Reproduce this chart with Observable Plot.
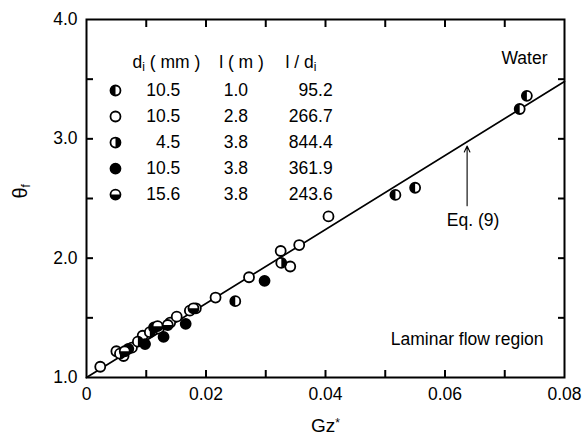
<!DOCTYPE html>
<html><head><meta charset="utf-8">
<script src="https://cdn.jsdelivr.net/npm/d3@7"></script>
<script src="https://cdn.jsdelivr.net/npm/@observablehq/plot@0.6"></script>
<style>
body{margin:0;background:#fff}
svg{font-family:"Liberation Sans",Arial,Helvetica,sans-serif}
</style>
</head><body><div id="chart"></div>
<script>
// ---- data (Gz*, theta_f) ----
const ptsA = [[0.0249,1.64],[0.0517,2.53],[0.0550,2.59],[0.0725,3.25],[0.0737,3.36]];            // d=10.5, l=1.0
const ptsB = [[0.0023,1.09],[0.0050,1.22],[0.0062,1.18],[0.0076,1.25],[0.0094,1.35],[0.0121,1.41],
              [0.0140,1.46],[0.0151,1.51],[0.0173,1.56],[0.0183,1.58],[0.0216,1.67],[0.0272,1.84],
              [0.0325,2.06],[0.0341,1.93],[0.0356,2.11],[0.0405,2.35]];                            // d=10.5, l=2.8
const ptsC = [[0.0056,1.20],[0.0086,1.30],[0.0106,1.38],[0.0326,1.96]];                           // d=4.5, l=3.8
const ptsD = [[0.0070,1.24],[0.0098,1.28],[0.0113,1.42],[0.0129,1.34],[0.0166,1.45],[0.0298,1.81]]; // d=10.5, l=3.8
const ptsE = [[0.0064,1.22],[0.0119,1.43],[0.0136,1.44],[0.0179,1.58]];                           // d=15.6, l=3.8

const legendD  = ["10.5","10.5","4.5","10.5","15.6"];
const legendL  = ["1.0","2.8","3.8","3.8","3.8"];
const legendLD = ["95.2","266.7","844.4","361.9","243.6"];
const legendKind = ["left","none","right","full","bottom"];
const seriesKind = ["left","none","right","full","bottom"];
const seriesPts = [ptsA, ptsB, ptsC, ptsD, ptsE];

const eqLine = [[0,1.0],[0.08,3.48]];
const xMajor = [0,0.02,0.04,0.06,0.08];
const xTicks = [0.01,0.02,0.03,0.04,0.05,0.06,0.07];
const yMajor = [1,2,3,4];
const yTicks = [1.5,2,2.5,3,3.5];

// ---- custom half-disc symbols ----
function half(start){
  return {draw(ctx,size){const r=Math.sqrt(size/Math.PI);
    ctx.moveTo(r*Math.cos(start), r*Math.sin(start));
    ctx.arc(0,0,r,start,start+Math.PI); ctx.closePath();}};
}
const fillSym = {left: half(Math.PI/2), right: half(-Math.PI/2), bottom: half(0), full: "circle"};

const R = 5;
function symbolMarks(data, kind, xAcc, yAcc){
  const m = [Plot.dot(data,{x:xAcc,y:yAcc,r:R,fill:"white",stroke:"black",strokeWidth:1.8})];
  if(kind!=="none") m.push(Plot.dot(data,{x:xAcc,y:yAcc,r:R,fill:"black",stroke:"none",symbol:fillSym[kind]}));
  return m;
}

const rows = legendD.map((d,i)=>({i, d, l:legendL[i], ld:legendLD[i], kind:legendKind[i]}));
const rowY = (i)=> 3.405 - i*0.218;
const FS = 17.5;
const font = {fontSize:FS, fill:"black"};

const marks = [
  Plot.line(eqLine,{x:d=>d[0],y:d=>d[1],stroke:"black",strokeWidth:1.7}),
  ...seriesPts.flatMap((pts,k)=>symbolMarks(pts, seriesKind[k], d=>d[0], d=>d[1])),
  // legend
  Plot.text(["d_i ( mm )"],{x:0.0077,y:3.64,text:d=>d,textAnchor:"start",...font}),
  Plot.text(["l ( m )"],{x:0.0222,y:3.64,text:d=>d,textAnchor:"start",...font}),
  Plot.text(["l / d_i"],{x:0.0333,y:3.64,text:d=>d,textAnchor:"start",...font}),
  ...rows.flatMap(r=>symbolMarks([r], r.kind, ()=>0.00485, d=>rowY(d.i))),
  Plot.text(rows,{x:0.0157,y:d=>rowY(d.i),text:"d",textAnchor:"end",...font}),
  Plot.text(rows,{x:0.0250,y:d=>rowY(d.i),text:"l",...font}),
  Plot.text(rows,{x:0.0412,y:d=>rowY(d.i),text:"ld",textAnchor:"end",...font}),
  // annotations
  Plot.arrow([[0.0637,2.44,0.0637,2.94]],{x1:d=>d[0],y1:d=>d[1],x2:d=>d[2],y2:d=>d[3],stroke:"black",strokeWidth:1.1,headLength:9,headAngle:50}),
  Plot.text(["Eq. (9)"],{x:0.0647,y:2.32,text:d=>d,...font}),
  Plot.text(["Water"],{frameAnchor:"top-right",dx:-17,dy:39,lineAnchor:"middle",text:d=>d,...font}),
  Plot.text(["Laminar flow region"],{frameAnchor:"bottom-right",dx:-21,dy:-38,lineAnchor:"middle",text:d=>d,...font}),
  // axis titles
  Plot.text(["Gz*"],{frameAnchor:"bottom",dy:48,lineAnchor:"middle",text:d=>d,...font,fontSize:19}),
  Plot.text(["θ_f"],{frameAnchor:"left",dx:-66,rotate:-90,lineAnchor:"middle",text:d=>d,...font,fontSize:20}),
  // inward ticks
  Plot.axisX({anchor:"bottom",ticks:xTicks,tickSize:-7,tickFormat:()=>"",label:null,strokeWidth:2}),
  Plot.axisX({anchor:"top",ticks:xTicks,tickSize:-7,tickFormat:()=>"",label:null,strokeWidth:2}),
  Plot.axisY({anchor:"left",ticks:yTicks,tickSize:-7,tickFormat:()=>"",label:null,strokeWidth:2}),
  Plot.axisY({anchor:"right",ticks:yTicks,tickSize:-7,tickFormat:()=>"",label:null,strokeWidth:2}),
  // labels
  Plot.axisX({anchor:"bottom",ticks:xMajor,tickSize:0,tickPadding:10,tickFormat:d=>d===0?"0":d3.format(".2f")(d),label:null,fontSize:FS}),
  Plot.axisY({anchor:"left",ticks:yMajor,tickSize:0,tickPadding:9,tickFormat:d3.format(".1f"),label:null,fontSize:FS}),
  Plot.frame({stroke:"black",strokeWidth:2})
];

const chart = Plot.plot({
  width:587, height:441,
  marginLeft:86, marginRight:23, marginTop:19, marginBottom:64,
  x:{domain:[0,0.08]}, y:{domain:[1,4]},
  style:{fontSize:FS+"px",fontFamily:'"Liberation Sans",Arial,sans-serif',color:"black",background:"white"},
  marks
});
document.getElementById("chart").appendChild(chart);

// rich text: subscripts and superscripts
d3.select(chart).selectAll("text").each(function(){
  const t = this.textContent;
  if(t.includes("_")){
    const parts = t.split(/_(\w)/);
    this.textContent = "";
    parts.forEach((p,i)=>{
      if(p==="") return;
      const ts = document.createElementNS("http://www.w3.org/2000/svg","tspan");
      ts.textContent = p;
      if(i%2===1){ ts.setAttribute("baseline-shift","-28%"); ts.setAttribute("font-size","12"); }
      this.appendChild(ts);
    });
  } else if(t==="Gz*"){
    this.textContent = "Gz";
    const ts = document.createElementNS("http://www.w3.org/2000/svg","tspan");
    ts.textContent = "*"; ts.setAttribute("baseline-shift","45%"); ts.setAttribute("font-size","12");
    this.appendChild(ts);
  }
});
</script>
</body></html>
